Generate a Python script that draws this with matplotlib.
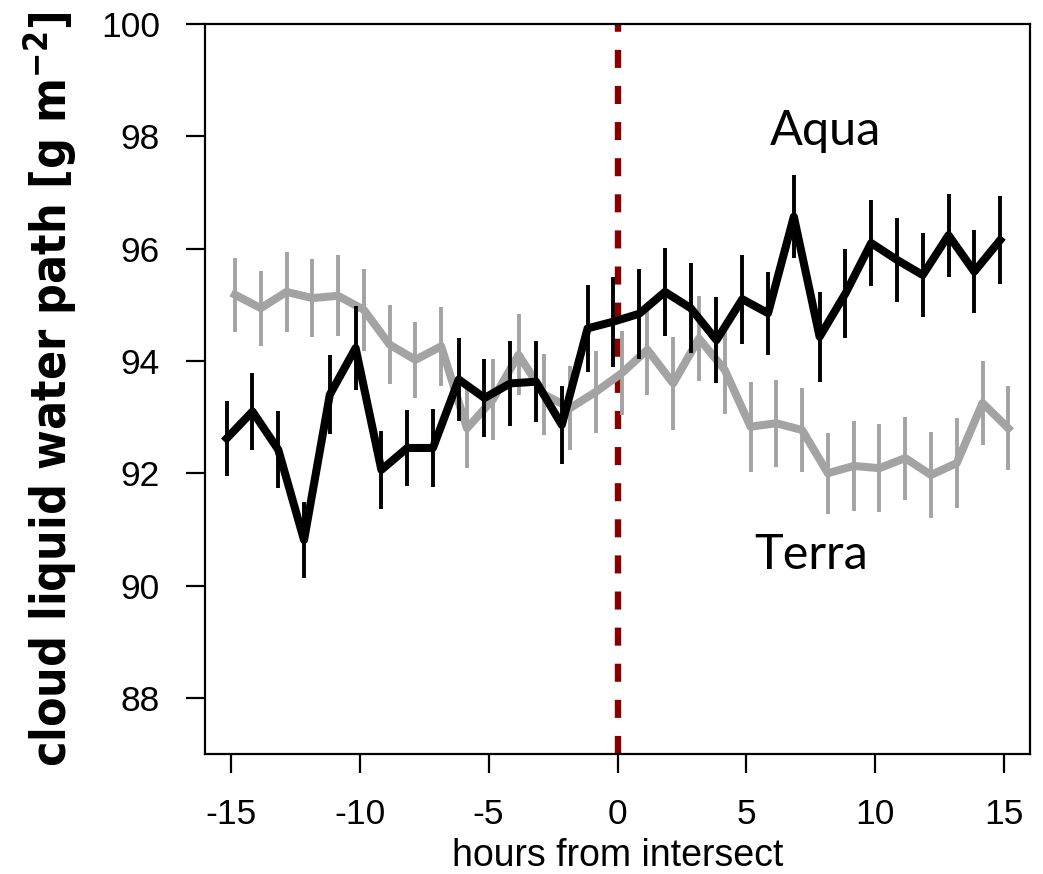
import matplotlib
matplotlib.use("Agg")
import matplotlib.pyplot as plt
from matplotlib import font_manager as fm
import numpy as np

hours = np.arange(-15, 16)

aqua = [92.62, 93.10, 92.42, 90.81, 93.40, 94.23, 92.06, 92.45, 92.45, 93.67,
        93.34, 93.60, 93.63, 92.86, 94.58, 94.70, 94.84, 95.23, 94.94, 94.37,
        95.10, 94.85, 96.57, 94.43, 95.20, 96.10, 95.80, 95.53, 96.24, 95.59,
        96.15]
aqua_err = [0.67, 0.68, 0.68, 0.68, 0.70, 0.74, 0.70, 0.68, 0.70, 0.74,
            0.70, 0.75, 0.72, 0.69, 0.77, 0.80, 0.80, 0.78, 0.80, 0.77,
            0.79, 0.74, 0.74, 0.80, 0.80, 0.77, 0.75, 0.74, 0.74, 0.74,
            0.78]

terra = [95.18, 94.94, 95.23, 95.12, 95.16, 94.91, 94.29, 94.02, 94.26, 92.80,
         93.31, 94.11, 93.40, 93.16, 93.45, 93.78, 94.20, 93.60, 94.40, 93.84,
         92.83, 92.89, 92.77, 92.00, 92.13, 92.09, 92.27, 91.97, 92.18, 93.25,
         92.80]
terra_err = [0.66, 0.67, 0.71, 0.70, 0.72, 0.73, 0.70, 0.68, 0.70, 0.70,
             0.72, 0.72, 0.72, 0.75, 0.73, 0.75, 0.80, 0.83, 0.75, 0.78,
             0.80, 0.77, 0.74, 0.72, 0.80, 0.78, 0.74, 0.77, 0.80, 0.75,
             0.75]

shift = 0.16  # small horizontal dodge between the two satellites
grey = '#a3a3a3'

plt.rcParams['font.family'] = ['Liberation Sans', 'DejaVu Sans']
plt.rcParams['lines.scale_dashes'] = False
plt.rcParams['axes.unicode_minus'] = False

# pick a narrow bold face for the y label if one is installed
fonts = fm.fontManager.ttflist
if any(f.name == 'Liberation Sans Narrow' for f in fonts):
    ylab_font = dict(family='Liberation Sans Narrow', fontweight='bold')
elif any(f.name == 'DejaVu Sans' and f.stretch == 'condensed' for f in fonts):
    ylab_font = dict(family='DejaVu Sans', fontweight='bold', fontstretch='condensed')
else:
    ylab_font = dict(family='DejaVu Sans', fontweight='bold')

fig = plt.figure(figsize=(10.43, 8.74), dpi=100)
ax = fig.add_axes([0.1966, 0.1373, 0.7909, 0.8352])

ax.axvline(0, color='#870000', lw=4.6, dashes=(13, 13), zorder=1)

ax.errorbar(hours + shift, terra, yerr=terra_err, color=grey, lw=5.8,
            elinewidth=2.8, capsize=0, zorder=2)
ax.errorbar(hours - shift, aqua, yerr=aqua_err, color='black', lw=5.8,
            elinewidth=2.8, capsize=0, zorder=3)

ax.text(8.07, 98.1, 'Aqua', fontsize=35, family='Lato', ha='center', va='center')
ax.text(7.51, 90.54, 'Terra', fontsize=35, family='Lato', ha='center', va='center')

ax.set_xlim(-16, 16)
ax.set_ylim(87, 100)
ax.set_xticks([-15, -10, -5, 0, 5, 10, 15])
ax.set_yticks([88, 90, 92, 94, 96, 98, 100])
ax.set_yticklabels(['88', '90', '92', '94', '96', '98', '100'], rotation=0)

for s in ax.spines.values():
    s.set_linewidth(1.6)
ax.tick_params(axis='both', length=13.5, width=1.6, labelsize=25.5)
ax.tick_params(axis='x', pad=18)
ax.tick_params(axis='y', pad=19)

ax.set_xlabel('hours from intersect', fontsize=27)
ax.xaxis.set_label_coords(0.5, -0.1534)
ax.xaxis.label.set_va('baseline')

ax.set_ylabel(r'cloud liquid water path [g m$^{\mathregular{-2}}$]', fontsize=36,
              **ylab_font)
ax.yaxis.label.set_fontweight('black')
ax.yaxis.set_label_coords(-0.188, 0.5)
ax.yaxis.label.set_va('center')

# scale the y label so it spans the same height as in the original
fig.canvas.draw()
ext = ax.yaxis.label.get_window_extent(fig.canvas.get_renderer())
ax.yaxis.label.set_fontsize(36 * 755 / ext.height)

plt.savefig('out.png', dpi=100)
